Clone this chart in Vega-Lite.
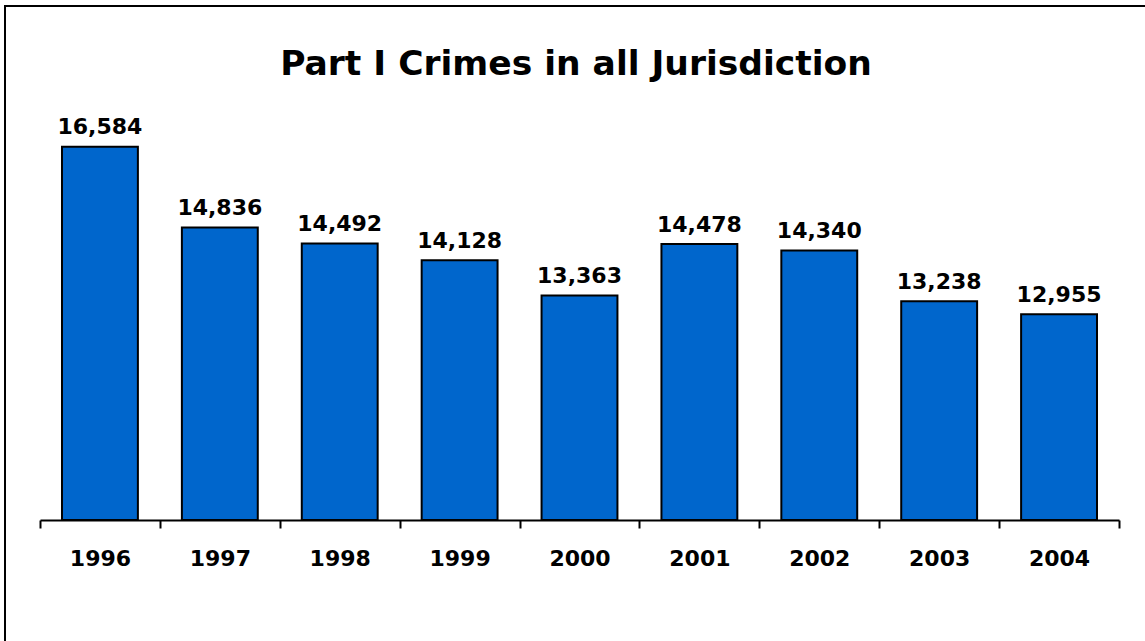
{
  "$schema": "https://vega.github.io/schema/vega-lite/v6.json",
  "width": 1142,
  "height": 637,
  "autosize": {"type": "none"},
  "padding": {"left": 5, "top": 6, "right": -2, "bottom": -2},
  "background": "white",
  "title": {
    "text": "Part I Crimes in all Jurisdiction",
    "font": "DejaVu Sans",
    "fontSize": 34.5,
    "fontWeight": "bold",
    "color": "black",
    "anchor": "middle",
    "baseline": "alphabetic",
    "offset": -103
  },
  "data": {
    "values": [
      {"year": "1996", "crimes": 16584},
      {"year": "1997", "crimes": 14836},
      {"year": "1998", "crimes": 14492},
      {"year": "1999", "crimes": 14128},
      {"year": "2000", "crimes": 13363},
      {"year": "2001", "crimes": 14478},
      {"year": "2002", "crimes": 14340},
      {"year": "2003", "crimes": 13238},
      {"year": "2004", "crimes": 12955}
    ]
  },
  "encoding": {
    "x": {
      "field": "year",
      "type": "nominal",
      "sort": null,
      "scale": {"range": [35, 1114], "paddingInner": 0, "paddingOuter": 0},
      "axis": {
        "orient": "bottom",
        "offset": -123,
        "title": null,
        "labelAngle": 0,
        "domainColor": "black",
        "domainWidth": 2,
        "tickColor": "black",
        "tickWidth": 2,
        "tickSize": 8,
        "tickBand": "extent",
        "labelFont": "DejaVu Sans",
        "labelFontSize": 22,
        "labelFontWeight": "bold",
        "labelColor": "black",
        "labelBaseline": "alphabetic",
        "labelPadding": 37,
        "grid": false
      }
    }
  },
  "layer": [
    {
      "mark": {"type": "bar", "color": "#0066CC", "stroke": "black", "strokeWidth": 2, "width": {"band": 0.633}},
      "encoding": {
        "y": {"field": "crimes", "type": "quantitative", "scale": {"domain": [8500, 19636], "range": [514, 0], "zero": false, "nice": false}, "axis": null},
        "y2": {"datum": 8500}
      }
    },
    {
      "mark": {"type": "text", "font": "DejaVu Sans", "fontSize": 22, "fontWeight": "bold", "baseline": "alphabetic", "dy": -12.5, "color": "black"},
      "encoding": {
        "y": {"field": "crimes", "type": "quantitative"},
        "text": {"field": "crimes", "type": "quantitative", "format": ","}
      }
    }
  ],
  "config": {"view": {"stroke": "black", "strokeWidth": 2}}
}
